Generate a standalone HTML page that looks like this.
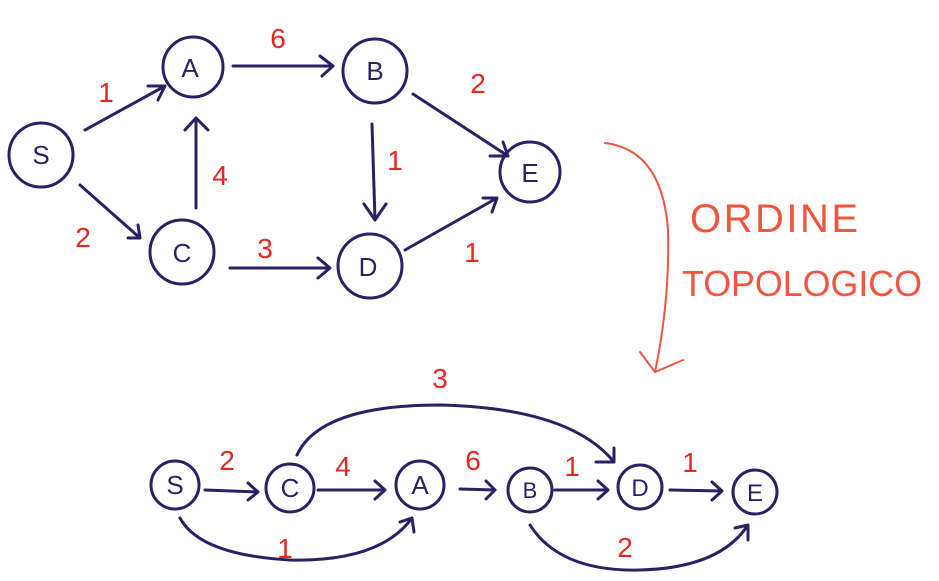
<!DOCTYPE html>
<html><head><meta charset="utf-8"><style>
html,body{margin:0;padding:0;background:#fff;}
svg{display:block;}
.n{fill:none;stroke:#2b1f66;stroke-width:3;stroke-linecap:round;stroke-linejoin:round;}
.t{font-family:"Liberation Sans",sans-serif;fill:#2b1f66;font-size:26px;text-anchor:middle;}
.r{font-family:"Liberation Sans",sans-serif;fill:#e8281e;font-size:28px;text-anchor:middle;}
.o{fill:none;stroke:#f2553f;stroke-width:2;stroke-linecap:round;}
.ot{font-family:"Liberation Sans",sans-serif;fill:#f2553f;font-size:40px;}
</style></head><body>
<svg width="939" height="581" viewBox="0 0 939 581" xmlns="http://www.w3.org/2000/svg">
<circle class="n" cx="41" cy="155" r="32"/><text class="t" x="41" y="164">S</text>
<circle class="n" cx="193" cy="67" r="30"/><text class="t" x="190" y="77">A</text>
<circle class="n" cx="375" cy="71" r="32"/><text class="t" x="375" y="80">B</text>
<circle class="n" cx="530" cy="172" r="30"/><text class="t" x="530" y="182">E</text>
<circle class="n" cx="182" cy="252" r="32"/><text class="t" x="182" y="262">C</text>
<circle class="n" cx="370" cy="266" r="32"/><text class="t" x="368" y="276">D</text>
<path class="n" d="M85 130 L165 86 M148 86 L165 86 L158 100"/>
<path class="n" d="M80 185 L140 238 M128 238 L140 238 L138 225"/>
<path class="n" d="M196 208 L196 118 M185 130 L196 118 L208 130"/>
<path class="n" d="M233 66 L333 66 M320 56 L333 66 L322 76"/>
<path class="n" d="M372 124 L375 220 M364 204 L375 220 L386 204"/>
<path class="n" d="M413 94 L508 156 M490 156 L508 156 L503 142"/>
<path class="n" d="M230 268 L330 268 M318 258 L330 268 L318 278"/>
<path class="n" d="M405 250 L497 198 M483 198 L497 198 L492 212"/>
<text class="r" x="106" y="102">1</text>
<text class="r" x="83" y="247">2</text>
<text class="r" x="220" y="185">4</text>
<text class="r" x="278" y="48">6</text>
<text class="r" x="395" y="170">1</text>
<text class="r" x="478" y="93">2</text>
<text class="r" x="265" y="258">3</text>
<text class="r" x="472" y="262">1</text>
<path class="o" d="M605 143 Q662 150 668 230 Q670 300 655 372 M640 352 L655 372 L683 360"/>
<text class="ot" x="690" y="232" textLength="168" lengthAdjust="spacing">ORDINE</text>
<text class="ot" x="682" y="296" style="font-size:36px" textLength="240" lengthAdjust="spacingAndGlyphs">TOPOLOGICO</text>
<circle class="n" cx="175" cy="485" r="24"/><text class="t" x="175" y="494">S</text>
<circle class="n" cx="290" cy="488" r="24"/><text class="t" x="290" y="497">C</text>
<circle class="n" cx="420" cy="485" r="24"/><text class="t" x="420" y="494">A</text>
<circle class="n" cx="530" cy="490" r="22"/><text class="t" x="530" y="498" style="font-size:22px">B</text>
<circle class="n" cx="640" cy="487" r="22"/><text class="t" x="640" y="496" style="font-size:24px">D</text>
<circle class="n" cx="755" cy="492" r="22"/><text class="t" x="755" y="501" style="font-size:24px">E</text>
<path class="n" d="M205 490 L258 492 M248 483 L258 492 L248 500"/>
<path class="n" d="M318 490 L385 490 M375 481 L385 490 L375 499"/>
<path class="n" d="M460 489 L495 490 M486 481 L495 490 L486 499"/>
<path class="n" d="M555 490 L608 490 M598 481 L608 490 L598 499"/>
<path class="n" d="M670 490 L722 491 M712 482 L722 491 L712 500"/>
<path class="n" d="M297 455 Q320 405 440 405 Q570 408 614 462 M596 462 L614 462 L614 448"/>
<path class="n" d="M180 518 Q200 555 290 560 Q380 562 412 518 M400 522 L412 518 L414 532"/>
<path class="n" d="M530 525 Q560 572 640 570 Q720 568 748 525 M735 528 L748 525 L748 540"/>
<text class="r" x="227" y="470">2</text>
<text class="r" x="343" y="476">4</text>
<text class="r" x="473" y="470">6</text>
<text class="r" x="572" y="476">1</text>
<text class="r" x="690" y="472">1</text>
<text class="r" x="440" y="388">3</text>
<text class="r" x="285" y="558">1</text>
<text class="r" x="625" y="557">2</text>
</svg>
</body></html>
